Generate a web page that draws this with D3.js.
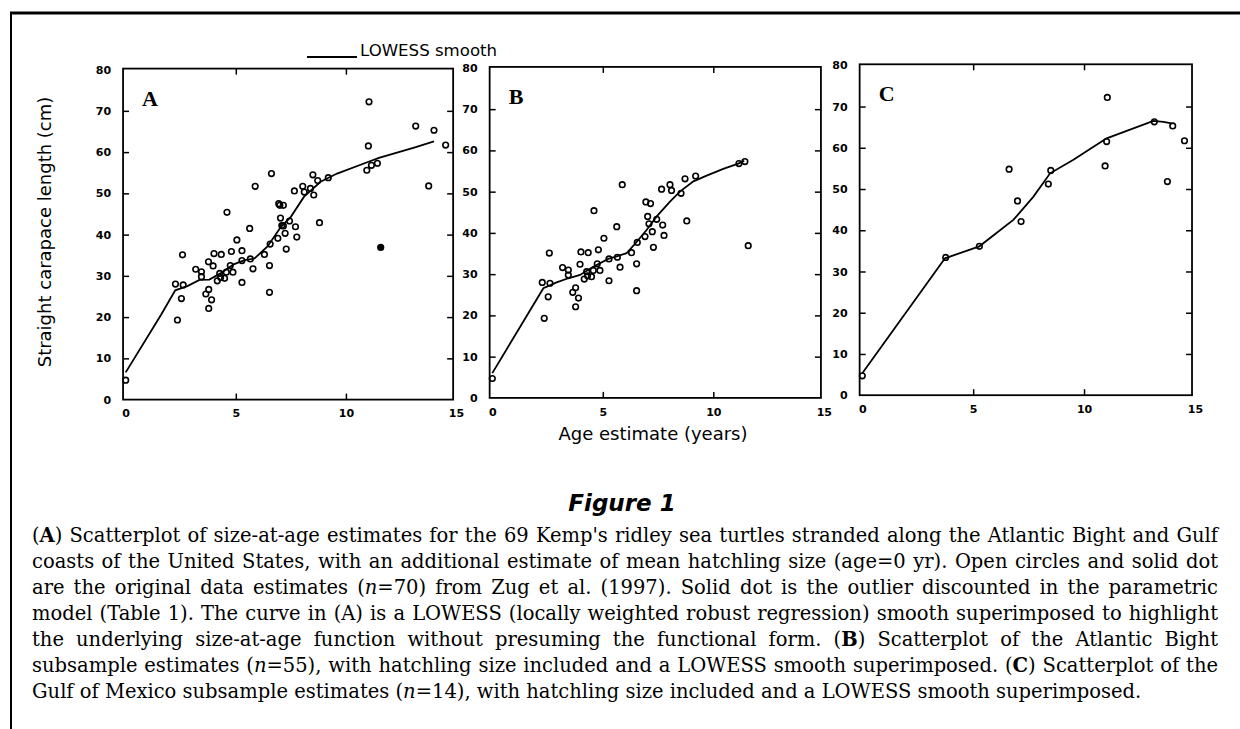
<!DOCTYPE html>
<html>
<head>
<meta charset="utf-8">
<title>Kemp's ridley size-at-age</title>
<script src="https://d3js.org/d3.v7.min.js"></script>
<style>
  body { margin: 0; background: #fff; }
  .tick text { font-family: "DejaVu Sans", sans-serif; font-weight: bold; font-size: 11px; fill: #000; }
  .tick line { stroke: #000; stroke-width: 1.5; }
  .sans { font-family: "DejaVu Sans", sans-serif; fill: #000; }
  .cap text { font-family: "DejaVu Serif", serif; fill: #000; }
</style>
</head>
<body>
<script>
// ---- data ----
var xTicks = [0, 5, 10, 15];
var yTicks = [0, 10, 20, 30, 40, 50, 60, 70, 80];

// mean hatchling size (age 0)
var hatchAge = [0];
var hatchLen = [4.7];

// Atlantic Bight subsample (without the outlier)
var bightAge = [2.26, 2.61, 2.35, 2.53, 2.58, 3.18, 3.44, 3.44, 3.64, 3.77, 3.77, 3.9, 3.97,
  4.01, 4.16, 4.27, 4.34, 4.31, 4.49, 4.57, 4.6, 4.75, 4.8, 4.87, 5.05, 5.28, 5.28, 5.63, 5.66,
  5.78, 5.88, 6.3, 6.53, 6.53, 6.56, 6.91, 6.95, 7.16, 7.03, 7.09, 7.24, 7.29, 7.44, 7.66, 7.71,
  7.77, 8.04, 8.11, 8.54, 8.72, 8.8, 9.2, 11.16, 11.43];
var bightLen = [28.0, 27.8, 19.3, 24.5, 35.1, 31.6, 31.0, 29.8, 25.6, 26.7, 22.1, 24.2, 32.4,
  35.4, 28.8, 30.6, 35.2, 29.6, 29.4, 30.9, 45.4, 32.5, 35.9, 30.9, 38.7, 33.7, 28.4, 41.5, 34.1,
  31.7, 51.7, 35.2, 32.5, 26.0, 37.7, 39.1, 47.5, 47.1, 44.0, 42.2, 40.3, 36.5, 43.3, 50.6, 41.9,
  39.4, 51.7, 50.3, 49.6, 53.1, 42.9, 53.8, 56.8, 57.3];

// the outlier (solid dot in A, open circle in B)
var outlierAge = [11.58];
var outlierLen = [36.9];

// Gulf of Mexico subsample
var gulfAge = [3.76, 5.28, 6.62, 7.0, 7.16, 8.39, 8.5, 10.95, 11.02, 11.05, 13.17, 13.76, 14.0, 14.53];
var gulfLen = [33.4, 36.1, 54.8, 47.1, 42.1, 51.2, 54.5, 55.6, 61.5, 72.2, 66.3, 51.8, 65.3, 61.7];

// LOWESS smooths
var lowessAAge = [0, 1.6, 2.25, 2.8, 3.35, 3.8, 4.3, 4.9, 5.4, 5.85, 6.45, 7.05, 7.5, 8.1, 8.85, 9.6, 11, 11.5, 13.1, 14];
var lowessALen = [6.6, 20.5, 26.5, 27.5, 29, 29.1, 30.6, 32.8, 33.8, 34.2, 37.2, 41.9, 44.3, 49.2, 52.8, 54.8, 57.6, 58.6, 61.1, 62.6];
var lowessBAge = [0, 2.31, 2.91, 3.44, 3.97, 4.57, 5.25, 5.63, 6.08, 6.53, 6.98, 7.44, 8.04, 8.49, 9.1, 9.7, 10.45, 11.13, 11.4];
var lowessBLen = [6.0, 26.6, 28.0, 29.0, 29.8, 31.8, 33.7, 34.3, 35.1, 37.8, 40.7, 44.0, 47.6, 50.0, 52.5, 53.9, 55.5, 56.8, 57.5];
var lowessCAge = [0, 3.73, 5.28, 6.81, 7.71, 8.47, 9.52, 11.02, 13.13, 13.58, 13.95];
var lowessCLen = [5.3, 33.2, 36.1, 42.5, 48.1, 53.8, 57.1, 62.3, 66.5, 66.3, 65.9];

var panelLetters = ["A", "B", "C"];

var captionLines = [
  "(**A**) Scatterplot of size-at-age estimates for the 69 Kemp's ridley sea turtles stranded along the Atlantic Bight and Gulf",
  "coasts of the United States, with an additional estimate of mean hatchling size (age=0 yr). Open circles and solid dot",
  "are the original data estimates (_n_=70) from Zug et al. (1997). Solid dot is the outlier discounted in the parametric",
  "model (Table 1). The curve in (A) is a LOWESS (locally weighted robust regression) smooth superimposed to highlight",
  "the underlying size-at-age function without presuming the functional form. (**B**) Scatterplot of the Atlantic Bight",
  "subsample estimates (_n_=55), with hatchling size included and a LOWESS smooth superimposed. (**C**) Scatterplot of the",
  "Gulf of Mexico subsample estimates (_n_=14), with hatchling size included and a LOWESS smooth superimposed."
];

// ---- helpers ----
function pts(ax, ly) { return ax.map(function(a, i) { return {age: a, len: ly[i]}; }); }

var hatch = pts(hatchAge, hatchLen);
var bight = pts(bightAge, bightLen);
var outl = pts(outlierAge, outlierLen);
var gulf = pts(gulfAge, gulfLen);

var panels = [
  {letter: panelLetters[0], xr: [125.7, 456], yr: [399.6, 69.6],
   open: hatch.concat(bight, gulf), solid: outl, smooth: pts(lowessAAge, lowessALen)},
  {letter: panelLetters[1], xr: [492.3, 823.8], yr: [397.9, 67.9],
   open: hatch.concat(bight, outl), solid: [], smooth: pts(lowessBAge, lowessBLen)},
  {letter: panelLetters[2], xr: [862.3, 1194.9], yr: [395.2, 65.3],
   open: hatch.concat(gulf), solid: [], smooth: pts(lowessCAge, lowessCLen)}
];

var width = 1240, height = 729;
var svg = d3.select("body").append("svg")
  .attr("width", width)
  .attr("height", height)
  .style("background", "#fff");

// page rules (top and left) of the scanned page
svg.append("line").attr("x1", 10).attr("x2", width).attr("y1", 13).attr("y2", 13)
  .attr("stroke", "#000").attr("stroke-width", 3);
svg.append("line").attr("x1", 11).attr("x2", 11).attr("y1", 13).attr("y2", height)
  .attr("stroke", "#000").attr("stroke-width", 2);

panels.forEach(function(p) {
  var x = d3.scaleLinear().domain([0, 15]).range(p.xr);
  var y = d3.scaleLinear().domain([0, 80]).range(p.yr);
  var g = svg.append("g");

  // frame
  g.append("rect")
    .attr("x", x(-0.12)).attr("y", y(80) - 1)
    .attr("width", x(14.87) - x(-0.12))
    .attr("height", y(0) - y(80) + 1)
    .attr("fill", "none").attr("stroke", "#000").attr("stroke-width", 1.8);

  // bottom axis with labels
  var bx = g.append("g")
    .attr("transform", "translate(0," + y(0) + ")")
    .call(d3.axisBottom(x).tickValues(xTicks).tickSize(-6).tickPadding(10));
  bx.select(".domain").remove();
  bx.selectAll(".tick").filter(function(d) { return d === 0 || d === 15; }).select("line").remove();

  // top axis, ticks only
  var tx = g.append("g")
    .attr("transform", "translate(0," + (y(80) - 1) + ")")
    .call(d3.axisTop(x).tickValues([5, 10]).tickSize(-6).tickFormat(""));
  tx.select(".domain").remove();

  // left axis with labels
  var ly = g.append("g")
    .attr("transform", "translate(" + x(-0.12) + ",0)")
    .call(d3.axisLeft(y).tickValues(yTicks).tickSize(-6).tickPadding(12));
  ly.select(".domain").remove();
  ly.selectAll(".tick").filter(function(d) { return d === 0 || d === 80; }).select("line").remove();

  // right axis, ticks only
  var ry = g.append("g")
    .attr("transform", "translate(" + x(14.87) + ",0)")
    .call(d3.axisRight(y).tickValues(yTicks.slice(1, -1)).tickSize(-6).tickFormat(""));
  ry.select(".domain").remove();

  // panel letter
  g.append("text")
    .attr("x", x(-0.12) + 19).attr("y", y(80) + 36)
    .attr("font-family", "'Liberation Serif', 'Times New Roman', serif")
    .attr("font-weight", "bold").attr("font-size", 22).attr("fill", "#000")
    .text(p.letter);

  // LOWESS smooth
  g.append("path")
    .datum(p.smooth)
    .attr("fill", "none").attr("stroke", "#000").attr("stroke-width", 1.8)
    .attr("d", d3.line().x(function(d) { return x(d.age); }).y(function(d) { return y(d.len); }));

  // open circles
  g.selectAll(".open").data(p.open).enter().append("circle")
    .attr("class", "open")
    .attr("cx", function(d) { return x(d.age); })
    .attr("cy", function(d) { return y(d.len); })
    .attr("r", 2.8)
    .attr("fill", "none").attr("stroke", "#000").attr("stroke-width", 1.6);

  // solid dot
  g.selectAll(".solid").data(p.solid).enter().append("circle")
    .attr("class", "solid")
    .attr("cx", function(d) { return x(d.age); })
    .attr("cy", function(d) { return y(d.len); })
    .attr("r", 3.6).attr("fill", "#000");
});

// axis titles
svg.append("text").attr("class", "sans")
  .attr("transform", "translate(51,232) rotate(-90)")
  .attr("text-anchor", "middle").attr("font-size", 18)
  .text("Straight carapace length (cm)");

svg.append("text").attr("class", "sans")
  .attr("x", 653).attr("y", 440)
  .attr("text-anchor", "middle").attr("font-size", 18)
  .text("Age estimate (years)");

// legend
svg.append("line").attr("x1", 307).attr("x2", 357).attr("y1", 57).attr("y2", 57)
  .attr("stroke", "#000").attr("stroke-width", 1.8);
svg.append("text").attr("class", "sans")
  .attr("x", 360).attr("y", 56).attr("font-size", 16.6)
  .text("LOWESS smooth");

// figure title
svg.append("text").attr("class", "sans")
  .attr("x", 622).attr("y", 511)
  .attr("text-anchor", "middle")
  .attr("font-weight", "bold").attr("font-style", "italic").attr("font-size", 23)
  .text("Figure 1");

// caption, justified word by word
var capLeft = 32, capRight = 1218, capTop = 542, capStep = 26;
var cap = svg.append("g").attr("class", "cap");

function wordText(w, yy, size) {
  var t = cap.append("text").attr("y", yy).attr("font-size", size);
  w.split(/(\*\*[^*]+\*\*|_[^_]+_)/).forEach(function(seg) {
    if (!seg) return;
    var ts = t.append("tspan");
    if (seg.indexOf("**") === 0) { ts.attr("font-weight", "bold").text(seg.slice(2, -2)); }
    else if (seg[0] === "_" && seg.length > 2) { ts.attr("font-style", "italic").text(seg.slice(1, -1)); }
    else { ts.text(seg); }
  });
  return t;
}

function spaceWidth(size) {
  var a = cap.append("text").attr("font-size", size).text("a a");
  var b = cap.append("text").attr("font-size", size).text("aa");
  var w = a.node().getComputedTextLength() - b.node().getComputedTextLength();
  a.remove(); b.remove();
  return w;
}

// pick the size so the tightest justified line just fits
var baseSize = 16;
var sp0 = spaceWidth(baseSize);
var widest = d3.max(captionLines.slice(0, -1), function(line) {
  var words = line.split(" ");
  var s = d3.sum(words, function(w) {
    var t = wordText(w, 0, baseSize);
    var len = t.node().getComputedTextLength();
    t.remove();
    return len;
  });
  return s + sp0 * (words.length - 1);
});
var capSize = baseSize * (capRight - capLeft) * 0.992 / widest;
var spaceW = spaceWidth(capSize);

captionLines.forEach(function(line, li) {
  var yy = capTop + li * capStep;
  var nodes = line.split(" ").map(function(w) {
    var t = wordText(w, yy, capSize);
    return {t: t, w: t.node().getComputedTextLength()};
  });
  var total = d3.sum(nodes, function(n) { return n.w; });
  var last = li === captionLines.length - 1;
  var gap = last ? spaceW : (capRight - capLeft - total) / (nodes.length - 1);
  var cx = capLeft;
  nodes.forEach(function(n) {
    n.t.attr("x", cx);
    cx += n.w + gap;
  });
});
</script>
</body>
</html>
